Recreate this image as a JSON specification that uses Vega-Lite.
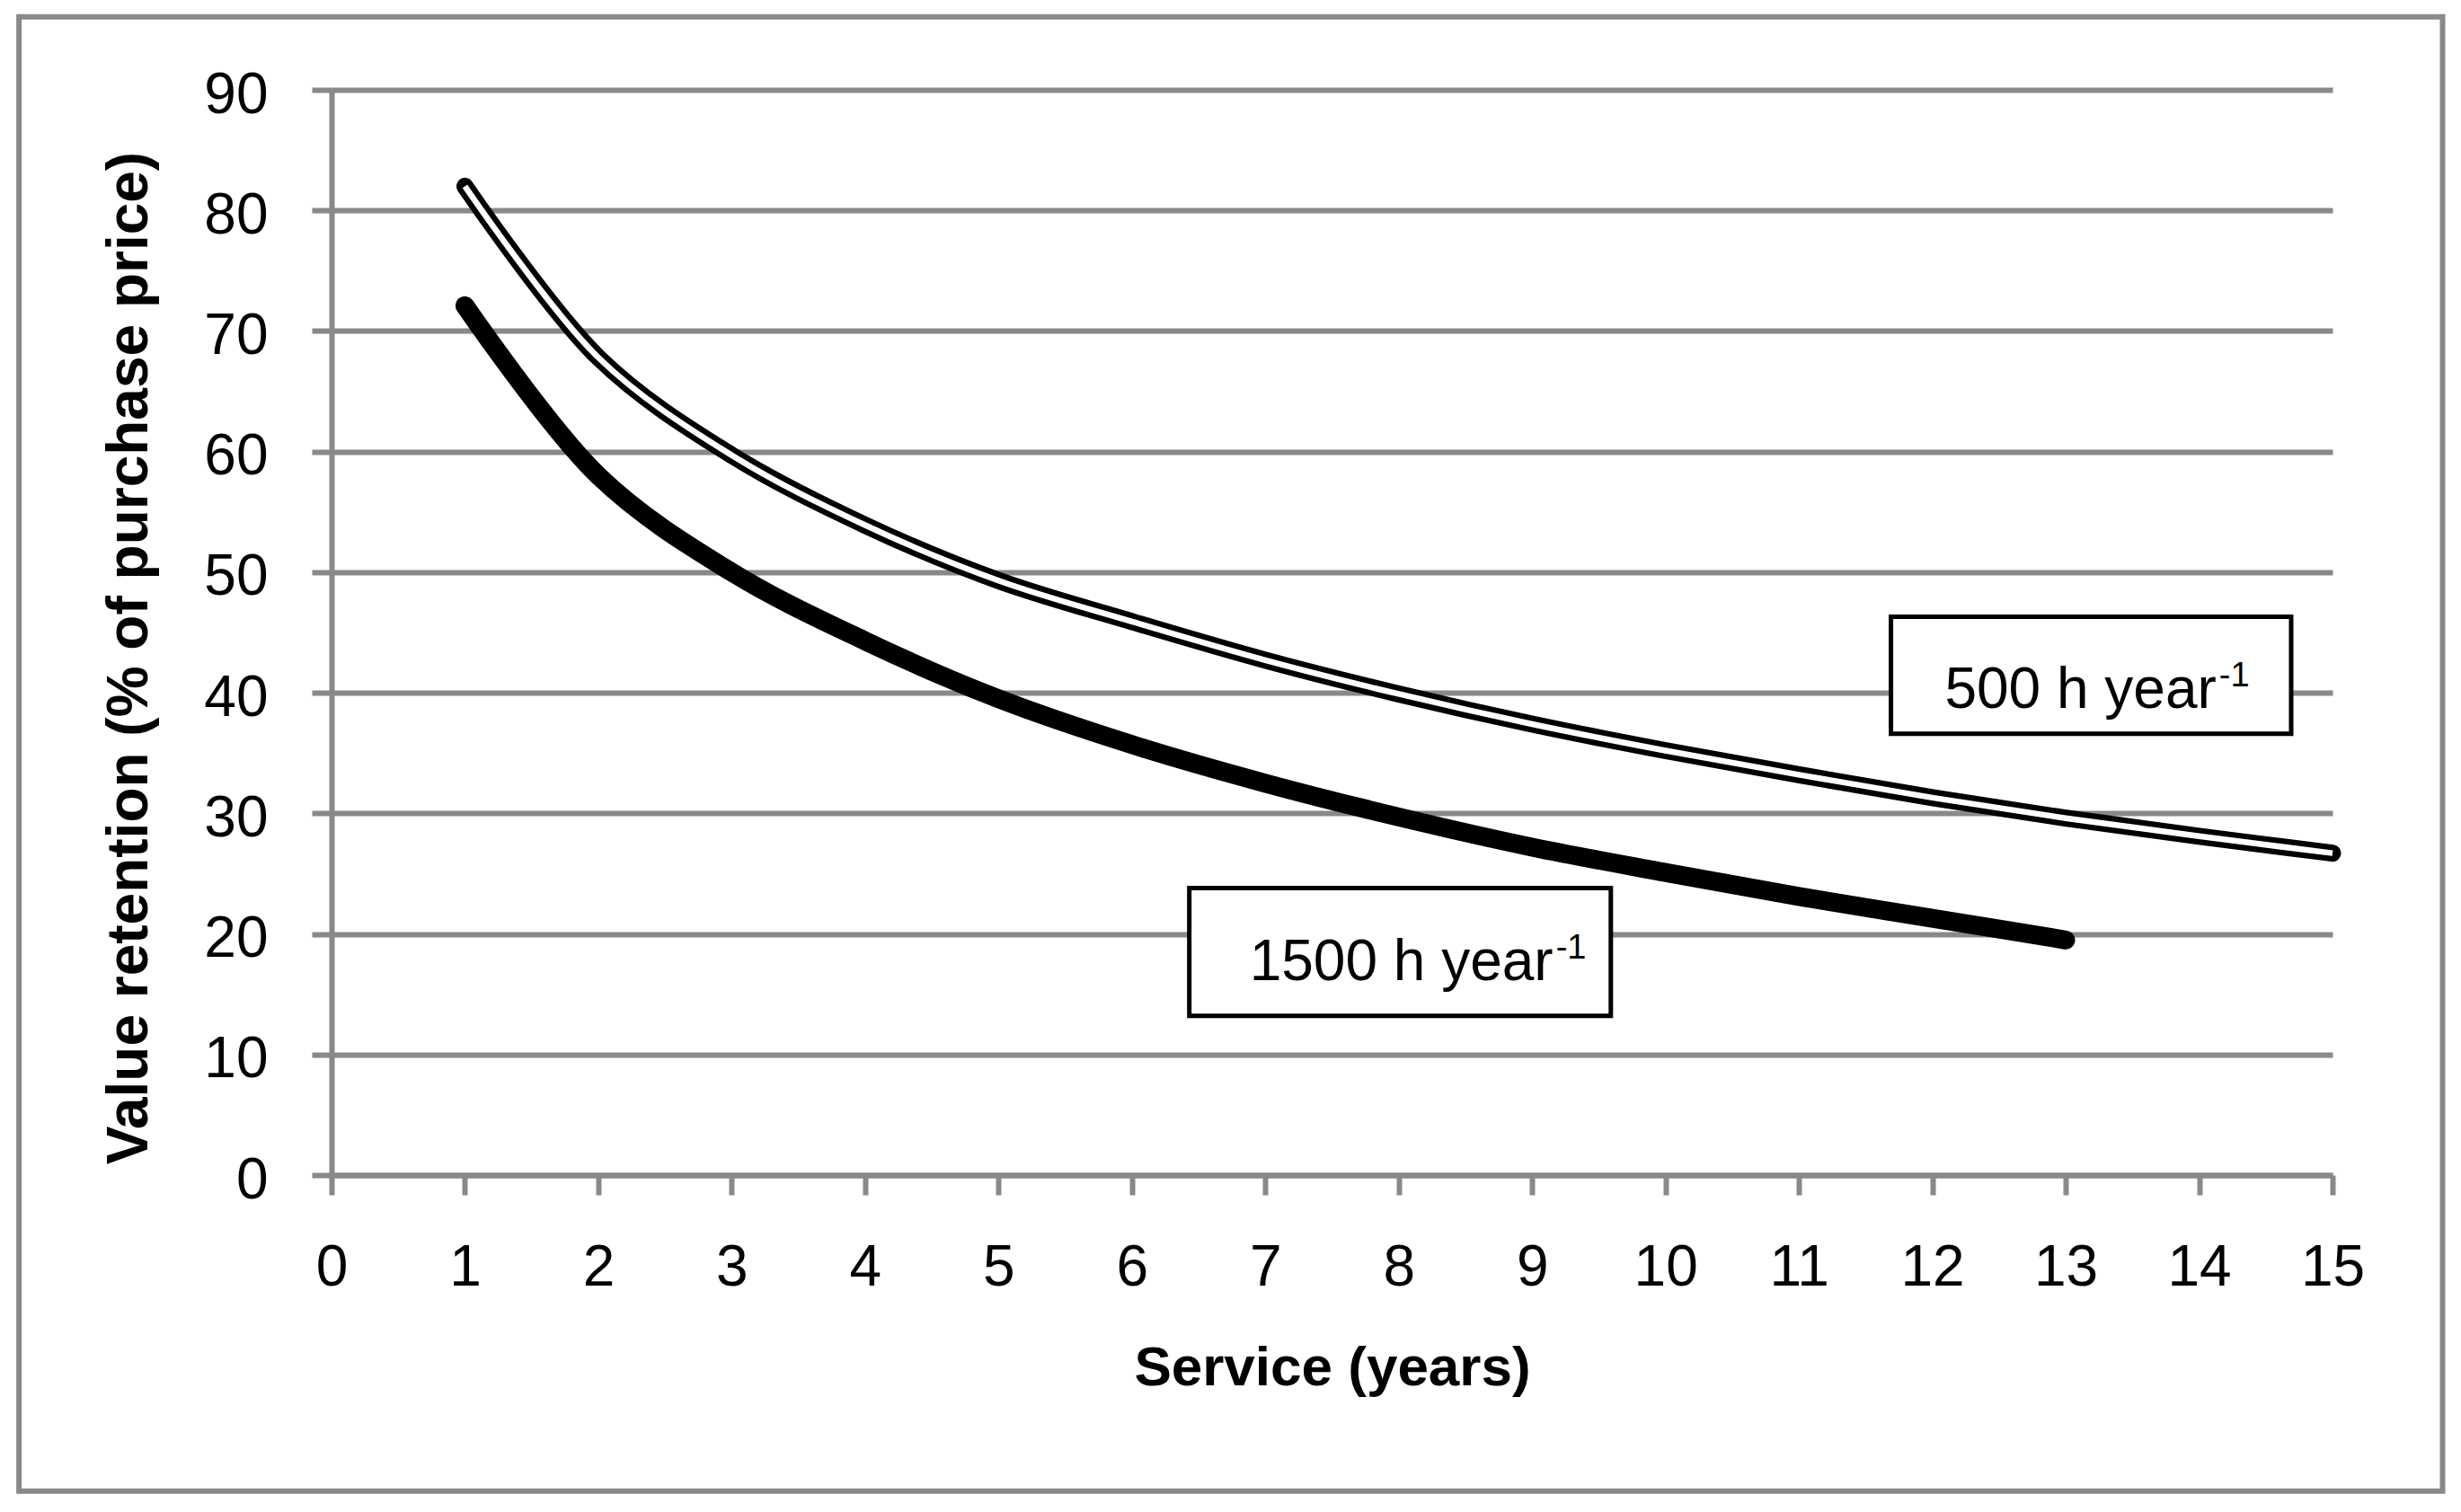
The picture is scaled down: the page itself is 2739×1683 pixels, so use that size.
{
  "$schema": "https://vega.github.io/schema/vega-lite/v6.json",
  "width": 2227,
  "height": 1208,
  "autosize": {"type": "none"},
  "padding": {"left": 369, "top": 100, "right": 143, "bottom": 375},
  "background": "white",
  "config": {"view": {"stroke": null}, "font": "Liberation Sans"},
  "datasets": {
    "curves": [
      {"hours": 500, "year": 1, "value": 82.0},
      {"hours": 500, "year": 2, "value": 67.8},
      {"hours": 500, "year": 3, "value": 59.7},
      {"hours": 500, "year": 4, "value": 53.9},
      {"hours": 500, "year": 5, "value": 49.3},
      {"hours": 500, "year": 6, "value": 45.9},
      {"hours": 500, "year": 7, "value": 42.7},
      {"hours": 500, "year": 8, "value": 39.9},
      {"hours": 500, "year": 9, "value": 37.4},
      {"hours": 500, "year": 10, "value": 35.2},
      {"hours": 500, "year": 11, "value": 33.2},
      {"hours": 500, "year": 12, "value": 31.3},
      {"hours": 500, "year": 13, "value": 29.6},
      {"hours": 500, "year": 14, "value": 28.1},
      {"hours": 500, "year": 15, "value": 26.7},
      {"hours": 1500, "year": 1, "value": 72.1},
      {"hours": 1500, "year": 2, "value": 58.0},
      {"hours": 1500, "year": 3, "value": 50.0},
      {"hours": 1500, "year": 4, "value": 44.3},
      {"hours": 1500, "year": 5, "value": 39.5},
      {"hours": 1500, "year": 6, "value": 35.7},
      {"hours": 1500, "year": 7, "value": 32.5},
      {"hours": 1500, "year": 8, "value": 29.7},
      {"hours": 1500, "year": 9, "value": 27.2},
      {"hours": 1500, "year": 10, "value": 25.1},
      {"hours": 1500, "year": 11, "value": 23.1},
      {"hours": 1500, "year": 12, "value": 21.3},
      {"hours": 1500, "year": 13, "value": 19.5}
    ],
    "labels": [
      {"hours": 500, "label": "500 h year", "sup": "-1", "tx": 14.13, "ty": 38.75, "x0": 11.69, "x1": 14.69, "y0": 36.6, "y1": 46.3},
      {"hours": 1500, "label": "1500 h year", "sup": "-1", "tx": 9.158, "ty": 16.17, "x0": 6.43, "x1": 9.59, "y0": 13.2, "y1": 23.8}
    ],
    "frame": [{"left": -2.343, "right": 15.825, "top": 96.05, "bottom": -26.2}]
  },
  "layer": [
    {
      "data": {"name": "curves"},
      "transform": [{"filter": "datum.hours == 500"}],
      "mark": {"type": "line", "color": "black", "strokeWidth": 19, "strokeCap": "round", "interpolate": "catmull-rom"},
      "encoding": {
        "x": {
          "field": "year",
          "type": "quantitative",
          "title": "Service (years)",
          "scale": {"domain": [0, 15], "nice": false, "zero": false},
          "axis": {
            "values": [0, 1, 2, 3, 4, 5, 6, 7, 8, 9, 10, 11, 12, 13, 14, 15],
            "format": "d",
            "grid": false,
            "domainColor": "#898989",
            "domainWidth": 6,
            "tickColor": "#898989",
            "tickWidth": 6,
            "tickSize": 22,
            "labelFont": "Liberation Sans",
            "labelFontSize": 64,
            "labelColor": "black",
            "labelPadding": 49,
            "labelFlush": false,
            "labelOverlap": false,
            "titleFont": "Liberation Sans",
            "titleFontSize": 62,
            "titleFontWeight": "bold",
            "titleColor": "black",
            "titlePadding": 49
          }
        },
        "y": {
          "field": "value",
          "type": "quantitative",
          "title": "Value retention (% of purchase price)",
          "scale": {"domain": [0, 90], "nice": false},
          "axis": {
            "values": [0, 10, 20, 30, 40, 50, 60, 70, 80, 90],
            "format": "d",
            "grid": true,
            "gridColor": "#898989",
            "gridWidth": 6,
            "domainColor": "#898989",
            "domainWidth": 6,
            "tickColor": "#898989",
            "tickWidth": 6,
            "tickSize": 22,
            "labelFont": "Liberation Sans",
            "labelFontSize": 64,
            "labelColor": "black",
            "labelPadding": 49,
            "labelOffset": 6,
            "labelFlush": false,
            "labelOverlap": false,
            "titleFont": "Liberation Sans",
            "titleFontSize": 64,
            "titleFontWeight": "bold",
            "titleColor": "black",
            "titlePadding": 50,
            "titleY": 632
          }
        }
      }
    },
    {
      "data": {"name": "curves"},
      "transform": [{"filter": "datum.hours == 500"}],
      "mark": {"type": "line", "color": "white", "strokeWidth": 6.5, "strokeCap": "butt", "interpolate": "catmull-rom"},
      "encoding": {
        "x": {"field": "year", "type": "quantitative", "title": "Service (years)"},
        "y": {"field": "value", "type": "quantitative", "title": "Value retention (% of purchase price)"}
      }
    },
    {
      "data": {"name": "curves"},
      "transform": [{"filter": "datum.hours == 1500"}],
      "mark": {"type": "line", "color": "black", "strokeWidth": 21, "strokeCap": "round", "interpolate": "catmull-rom"},
      "encoding": {
        "x": {"field": "year", "type": "quantitative", "title": "Service (years)"},
        "y": {"field": "value", "type": "quantitative", "title": "Value retention (% of purchase price)"}
      }
    },
    {
      "data": {"name": "labels"},
      "mark": {"type": "rect", "fill": "white", "stroke": "black", "strokeWidth": 5},
      "encoding": {
        "x": {"field": "x0", "type": "quantitative", "title": "Service (years)"},
        "x2": {"field": "x1"},
        "y": {"field": "y0", "type": "quantitative", "title": "Value retention (% of purchase price)"},
        "y2": {"field": "y1"}
      }
    },
    {
      "data": {"name": "labels"},
      "mark": {"type": "text", "align": "right", "baseline": "alphabetic", "fontSize": 64, "font": "Liberation Sans", "color": "black"},
      "encoding": {
        "x": {"field": "tx", "type": "quantitative", "title": "Service (years)"},
        "y": {"field": "ty", "type": "quantitative", "title": "Value retention (% of purchase price)"},
        "text": {"field": "label"}
      }
    },
    {
      "data": {"name": "labels"},
      "mark": {"type": "text", "align": "left", "baseline": "alphabetic", "fontSize": 38, "font": "Liberation Sans", "color": "black", "dx": 3, "dy": -24},
      "encoding": {
        "x": {"field": "tx", "type": "quantitative", "title": "Service (years)"},
        "y": {"field": "ty", "type": "quantitative", "title": "Value retention (% of purchase price)"},
        "text": {"field": "sup"}
      }
    },
    {
      "data": {"name": "frame"},
      "mark": {"type": "rect", "fill": null, "stroke": "#898989", "strokeWidth": 6},
      "encoding": {
        "x": {"field": "left", "type": "quantitative", "title": "Service (years)"},
        "x2": {"field": "right"},
        "y": {"field": "top", "type": "quantitative", "title": "Value retention (% of purchase price)"},
        "y2": {"field": "bottom"}
      }
    }
  ]
}
